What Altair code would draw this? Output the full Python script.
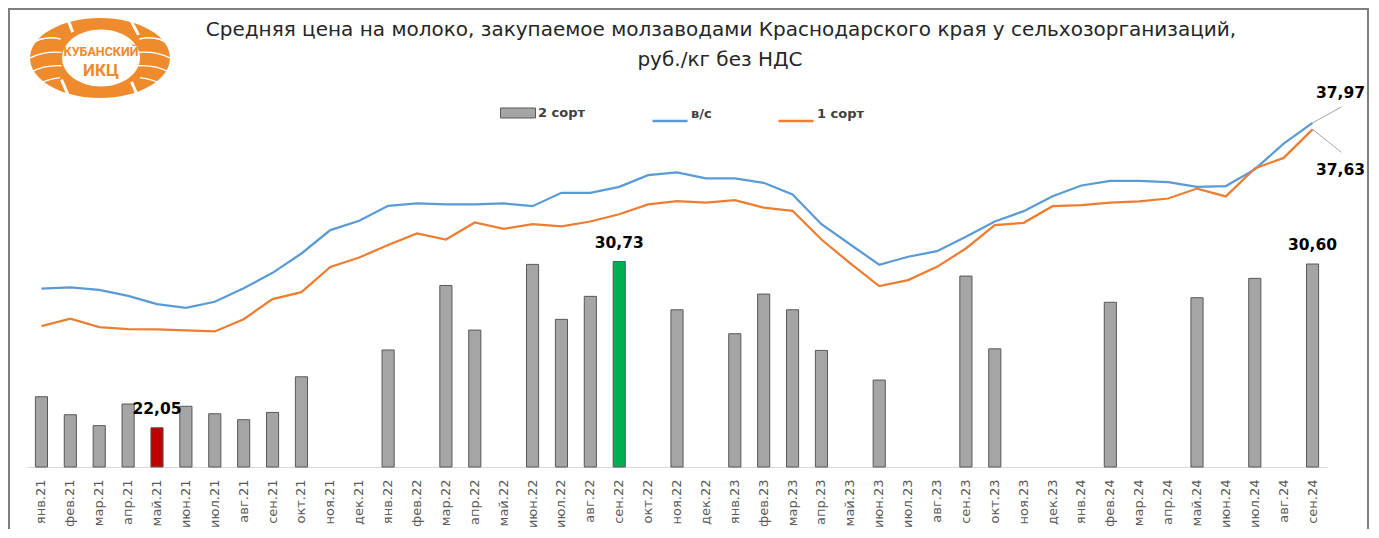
import altair as alt
import pandas as pd

# ---------------- data ----------------
months = ["янв.21", "фев.21", "мар.21", "апр.21", "май.21", "июн.21", "июл.21", "авг.21", "сен.21", "окт.21", "ноя.21", "дек.21",
          "янв.22", "фев.22", "мар.22", "апр.22", "май.22", "июн.22", "июл.22", "авг.22", "сен.22", "окт.22", "ноя.22", "дек.22",
          "янв.23", "фев.23", "мар.23", "апр.23", "май.23", "июн.23", "июл.23", "авг.23", "сен.23", "окт.23", "ноя.23", "дек.23",
          "янв.24", "фев.24", "мар.24", "апр.24", "май.24", "июн.24", "июл.24", "авг.24", "сен.24"]

grade2 = [23.67, 22.73, 22.16, 23.29, 22.05, 23.17, 22.78, 22.47, 22.85, 24.71, None, None,
          26.11, None, 29.48, 27.15, None, 30.58, 27.71, 28.91, 30.73, None, 28.21, None,
          26.96, 29.03, 28.21, 26.09, None, 24.54, None, None, 29.97, 26.17, None, None,
          None, 28.60, None, None, 28.84, None, 29.85, None, 30.60]

top_grade = [29.31, 29.38, 29.25, 28.94, 28.51, 28.31, 28.63, 29.33, 30.14, 31.15, 32.37, 32.86,
             33.64, 33.76, 33.71, 33.71, 33.76, 33.62, 34.32, 34.32, 34.63, 35.24, 35.38, 35.07,
             35.07, 34.84, 34.23, 32.68, 31.62, 30.56, 30.98, 31.27, 32.02, 32.82, 33.36, 34.14,
             34.70, 34.94, 34.94, 34.87, 34.63, 34.67, 35.54, 36.89, 37.97]

grade1 = [27.36, 27.74, 27.31, 27.20, 27.19, 27.13, 27.08, 27.72, 28.77, 29.13, 30.45, 30.94,
          31.59, 32.20, 31.88, 32.77, 32.44, 32.68, 32.56, 32.82, 33.20, 33.71, 33.88, 33.81,
          33.94, 33.55, 33.38, 31.88, 30.63, 29.45, 29.76, 30.45, 31.41, 32.63, 32.75, 33.62,
          33.67, 33.80, 33.87, 34.02, 34.54, 34.13, 35.59, 36.14, 37.63]

series_names = ["2 сорт", "в/с", "1 сорт"]
title_lines = ["Средняя цена на молоко, закупаемое молзаводами Краснодарского края у сельхозорганизаций,",
               "руб./кг без НДС"]
logo_lines = ["КУБАНСКИЙ", "ИКЦ"]
y_min, y_max = 20, 40

# ---------------- styles ----------------
C_BAR = "#a5a5a5"
C_BAR_STROKE = "#595959"
C_MIN = "#c00000"
C_MAX = "#00b050"
C_TOP = "#5b9bd5"
C_G1 = "#ed7d31"
C_LOGO = "#ef8a2d"
FONT = "DejaVu Sans"


def fmt(v):
    return f"{v:.2f}".replace(".", ",")


bars = pd.DataFrame({"month": months, "value": grade2}).dropna().reset_index(drop=True)
imin = bars["value"].idxmin()
imax = bars["value"].idxmax()
bars["kind"] = series_names[0]
bars.loc[imin, "kind"] = "min"
bars.loc[imax, "kind"] = "max"
bars["label"] = bars["value"].map(fmt)
bar_labels = bars.loc[[imin, imax, len(bars) - 1]]

top_df = pd.DataFrame({"month": months, "value": top_grade, "series": series_names[1]})
g1_df = pd.DataFrame({"month": months, "value": grade1, "series": series_names[2]})
top_last = top_df.tail(1).assign(label=lambda d: d["value"].map(fmt))
g1_last = g1_df.tail(1).assign(label=lambda d: d["value"].map(fmt))

x_enc = alt.X("month:N", sort=months,
              scale=alt.Scale(domain=months, paddingInner=0.58, paddingOuter=0.29),
              axis=alt.Axis(title=None, labelAngle=-90, ticks=False, grid=False,
                            domainColor="#d9d9d9", domainWidth=1,
                            labelColor="#595959", labelFont=FONT, labelFontSize=13,
                            labelPadding=12))
y_enc = alt.Y("value:Q", scale=alt.Scale(domain=[y_min, y_max], zero=False, nice=False), axis=None)

bar_layer = alt.Chart(bars).mark_bar(stroke=C_BAR_STROKE, strokeWidth=1).encode(
    x=x_enc, y=y_enc, y2=alt.datum(y_min),
    fill=alt.Fill("kind:N",
                  scale=alt.Scale(domain=[series_names[0], "min", "max"], range=[C_BAR, C_MIN, C_MAX]),
                  legend=alt.Legend(values=[series_names[0]], orient="none", legendX=473, legendY=11,
                                    title=None, padding=0,
                                    symbolType="M-1,-0.286H1V0.286H-1Z", symbolSize=1225,
                                    symbolStrokeColor=C_BAR_STROKE, symbolStrokeWidth=1,
                                    labelFont=FONT, labelFontWeight="bold", labelFontSize=13,
                                    labelColor="#404040", labelOffset=2)),
)

stroke_scale = alt.Scale(domain=series_names[1:], range=[C_TOP, C_G1])
line_legend = alt.Legend(orient="none", legendX=624, legendY=11, direction="horizontal",
                         title=None, padding=0, symbolType="M-1,0.4L1,0.4", symbolSize=1225,
                         symbolStrokeWidth=2.5, columnPadding=61,
                         labelFont=FONT, labelFontWeight="bold", labelFontSize=13,
                         labelColor="#404040", labelOffset=2)

top_line = alt.Chart(top_df).mark_line(strokeWidth=2.25).encode(
    x=x_enc, y=y_enc, stroke=alt.Stroke("series:N", scale=stroke_scale, legend=line_legend))
g1_line = alt.Chart(g1_df).mark_line(strokeWidth=2.25).encode(
    x=x_enc, y=y_enc, stroke=alt.Stroke("series:N", scale=stroke_scale, legend=line_legend))

bar_text = alt.Chart(bar_labels).mark_text(font=FONT, fontWeight="bold", fontSize=15.5, color="#000000",
                                           baseline="alphabetic", align="center", dy=-14).encode(
    x=x_enc, y=y_enc, text="label:N")

top_rule = alt.Chart(top_last).mark_rule(color="#a6a6a6", strokeWidth=1, x2Offset=29, y2Offset=-16).encode(
    x=x_enc, x2="month:N", y=y_enc, y2="value:Q")
g1_rule = alt.Chart(g1_last).mark_rule(color="#a6a6a6", strokeWidth=1, x2Offset=29, y2Offset=23).encode(
    x=x_enc, x2="month:N", y=y_enc, y2="value:Q")
top_text = alt.Chart(top_last).mark_text(font=FONT, fontWeight="bold", fontSize=15.5, color="#000000",
                                         baseline="alphabetic", align="center", dx=28, dy=-25).encode(
    x=x_enc, y=y_enc, text="label:N")
g1_text = alt.Chart(g1_last).mark_text(font=FONT, fontWeight="bold", fontSize=15.5, color="#000000",
                                       baseline="alphabetic", align="center", dx=28, dy=46).encode(
    x=x_enc, y=y_enc, text="label:N")

one = pd.DataFrame({"k": [0]})
frame = alt.Chart(one).mark_rect(fillOpacity=0, stroke="#7f7f7f", strokeWidth=2).encode(
    x=alt.value(-18), x2=alt.value(1341), y=alt.value(-75), y2=alt.value(470))

title1 = alt.Chart(one).mark_text(text=title_lines[0], font=FONT, fontSize=20, color="#262626",
                                  align="center", baseline="alphabetic").encode(
    x=alt.value(694), y=alt.value(-48))
title2 = alt.Chart(one).mark_text(text=title_lines[1], font=FONT, fontSize=20, color="#262626",
                                  align="center", baseline="alphabetic").encode(
    x=alt.value(693), y=alt.value(-18))

# logo (decoration)
LX, LY = 73, -26
logo_outer = alt.Chart(one).mark_point(
    shape="M-1,0A1,0.571,0,1,1,1,0A1,0.571,0,1,1,-1,0Z", size=19600, filled=True,
    fill=C_LOGO, opacity=1, strokeWidth=0).encode(x=alt.value(LX), y=alt.value(LY))
logo_inner = alt.Chart(one).mark_point(
    shape="M-1,0A1,0.73,0,1,1,1,0A1,0.73,0,1,1,-1,0Z", size=6084, filled=True,
    fill="#ffffff", opacity=1, strokeWidth=0).encode(x=alt.value(LX + 1), y=alt.value(LY))
stripes = ("M-0.98,-0.2Q-0.8,-0.33,-0.56,-0.27 M-1,0Q-0.8,-0.1,-0.55,-0.08 "
           "M-0.98,0.2Q-0.8,0.1,-0.55,0.11 M-0.9,0.38Q-0.75,0.3,-0.57,0.28 "
           "M0.98,-0.2Q0.8,-0.33,0.56,-0.27 M1,0Q0.8,-0.1,0.55,-0.08 "
           "M0.98,0.2Q0.8,0.1,0.55,0.11 M0.9,0.38Q0.75,0.3,0.57,0.28")
gaps = ("M-0.47,-0.58L-0.39,-0.37 M0.45,-0.52L0.55,-0.33 "
        "M-0.55,0.31L-0.46,0.52 M0.45,0.34L0.54,0.55")
logo_stripes = alt.Chart(one).mark_point(
    shape=stripes, size=19600, filled=False, stroke="#ffffff", strokeWidth=1.4, opacity=1).encode(
    x=alt.value(LX), y=alt.value(LY))
logo_gaps = alt.Chart(one).mark_point(
    shape=gaps, size=19600, filled=False, stroke="#ffffff", strokeWidth=3, opacity=1).encode(
    x=alt.value(LX), y=alt.value(LY))
logo_t1 = alt.Chart(one).mark_text(text=logo_lines[0], font="Roboto", fontWeight="bold", fontSize=12.5,
                                   color=C_LOGO, baseline="middle", align="center").encode(
    x=alt.value(LX + 1), y=alt.value(-32))
logo_t2 = alt.Chart(one).mark_text(text=logo_lines[1], font="Roboto", fontWeight="bold", fontSize=17,
                                   color=C_LOGO, baseline="middle", align="center").encode(
    x=alt.value(LX + 1), y=alt.value(-13))

chart = alt.layer(
    frame, title1, title2, logo_outer, logo_inner, logo_stripes, logo_gaps, logo_t1, logo_t2,
    bar_layer, top_line, g1_line, bar_text, top_rule, g1_rule, top_text, g1_text,
).resolve_scale(x="shared", y="shared").properties(
    width=1300, height=383,
    autosize=alt.AutoSizeParams(type="none"),
    padding={"left": 19, "top": 76, "right": 44, "bottom": 62},
).configure_view(stroke="transparent", strokeWidth=0)

chart.save("out.html", embed_options={"renderer": "svg", "actions": False})
